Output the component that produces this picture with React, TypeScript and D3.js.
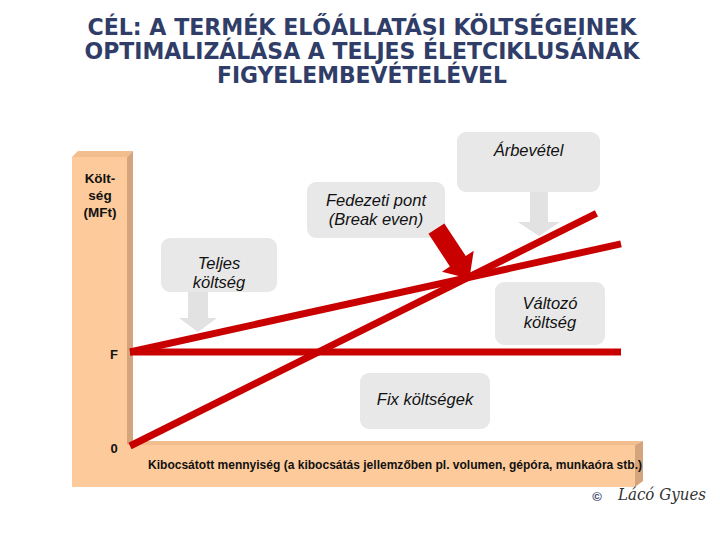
import React from "react";
import * as d3 from "d3";

const titleLines = [
  "CÉL: A TERMÉK ELŐÁLLATÁSI KÖLTSÉGEINEK",
  "OPTIMALIZÁLÁSA A TELJES ÉLETCIKLUSÁNAK",
  "FIGYELEMBEVÉTELÉVEL",
];
const yAxisLabel = ["Költ-", "ség", "(MFt)"];
const xAxisLabel = "Kibocsátott mennyiség (a kibocsátás jellemzőben pl. volumen, gépóra, munkaóra stb.)";
const yTickLabels = [
  { label: "F", value: 40 },
  { label: "0", value: 0 },
];

// quantity, cost (MFt)
const fixedCost: [number, number][] = [[0, 40], [100, 40]];
const totalCost: [number, number][] = [[0, 40], [100, 86]];
const revenue: [number, number][] = [[0, 0], [95, 99]];

const W = 720, H = 540;

export default function App() {
  const x = d3.scaleLinear().domain([0, 100]).range([130, 621]);
  const y = d3.scaleLinear().domain([0, 100]).range([446, 211]);
  const line = d3.line<[number, number]>().x(d => x(d[0])).y(d => y(d[1]));

  // break-even point from data
  const sT = (totalCost[1][1] - totalCost[0][1]) / (totalCost[1][0] - totalCost[0][0]);
  const sR = (revenue[1][1] - revenue[0][1]) / (revenue[1][0] - revenue[0][0]);
  const beQ = (totalCost[0][1] - revenue[0][1]) / (sR - sT);
  const beC = revenue[0][1] + sR * beQ;
  const tip: [number, number] = [x(beQ) + 2, y(beC) + 1];
  const dir = [0.55, 0.835];
  const perp = [dir[1], -dir[0]];
  const len = 60, headL = 21, headW = 19, shaftW = 9.5;
  const base = [tip[0] - dir[0] * headL, tip[1] - dir[1] * headL];
  const start = [tip[0] - dir[0] * len, tip[1] - dir[1] * len];
  const p = (pt: number[], k: number) => `${pt[0] + perp[0] * k},${pt[1] + perp[1] * k}`;
  const redArrow = [
    p(start, shaftW), p(base, shaftW), p(base, headW), `${tip[0]},${tip[1]}`,
    p(base, -headW), p(base, -shaftW), p(start, -shaftW),
  ].join(" ");

  const peach = "#FDCB9B";
  const tan = "#D4A47C";
  const red = "#C80000";
  const boxFill = "#E8E8E8";
  const arrowFill = "#E2E2E2";
  const labelFont = "'Liberation Sans', Arial, sans-serif";

  const downArrow = (cx: number, y0: number, y1: number, sw: number, hw: number, hl: number) =>
    `${cx - sw},${y0} ${cx + sw},${y0} ${cx + sw},${y1} ${cx + hw},${y1} ${cx},${y1 + hl} ${cx - hw},${y1} ${cx - sw},${y1}`;

  const boxes = [
    { x: 457, y: 132, w: 143, h: 60, lines: ["Árbevétel"], cy: 150 },
    { x: 307, y: 182, w: 138, h: 56, lines: ["Fedezeti pont", "(Break even)"], cy: 200 },
    { x: 161, y: 238, w: 116, h: 54, lines: ["Teljes", "költség"], cy: 263 },
    { x: 495, y: 282, w: 110, h: 63, lines: ["Változó", "költség"], cy: 303 },
    { x: 360, y: 373, w: 130, h: 56, lines: ["Fix költségek"], cy: 399 },
  ];

  return (
    <svg width={W} height={H} style={{ display: "block", position: "absolute", left: 0, top: 0, background: "#fff" }}>
      <rect x={0} y={0} width={W} height={H} fill="#fff" />
      {/* title */}
      {titleLines.map((t, i) => (
        <text key={i} x={362} y={35 + i * 24} textAnchor="middle"
          fontFamily="'DejaVu Sans Condensed', 'DejaVu Sans', sans-serif" fontWeight="bold"
          fontSize={23} fill="#2F3D68"
          textLength={i === 0 ? 549 : i === 1 ? 555 : 290} lengthAdjust="spacingAndGlyphs">{t}</text>
      ))}

      {/* axis bars */}
      <rect x={72} y={157} width={55} height={330} fill={peach} />
      <polygon points="72,157 78,151 133,151 127,157" fill="#F2BE8E" />
      <polygon points="127,157 133,151 133,441 127,445" fill={tan} />
      <rect x={72} y={445} width={563} height={42} fill={peach} />
      <polygon points="127,445 133,441 643,441 635,445" fill="#F2BE8E" />
      <polygon points="635,445 643,441 643,481 635,487" fill={tan} />

      {yAxisLabel.map((t, i) => (
        <text key={i} x={100} y={183 + i * 17} textAnchor="middle" fontFamily={labelFont}
          fontWeight="bold" fontSize={13.5} fill="#111">{t}</text>
      ))}
      {yTickLabels.map(d => (
        <text key={d.label} x={114} y={y(d.value) + 7} textAnchor="middle" fontFamily={labelFont}
          fontWeight="bold" fontSize={13} fill="#111">{d.label}</text>
      ))}
      <text x={148} y={469} fontFamily="'Liberation Sans Narrow', 'Liberation Sans', Arial, sans-serif"
        fontWeight="bold" fontSize={12} fill="#111" textLength={494} lengthAdjust="spacingAndGlyphs">{xAxisLabel}</text>

      {/* callout boxes */}
      {boxes.map((b, i) => (
        <g key={i}>
          <rect x={b.x} y={b.y} width={b.w} height={b.h} rx={9} ry={9} fill={boxFill} />
          {b.lines.map((t, j) => (
            <text key={j} x={b.x + b.w / 2} y={b.cy + 6 + j * 19} textAnchor="middle"
              fontFamily={labelFont} fontStyle="italic" fontSize={16.5} fill="#111">{t}</text>
          ))}
        </g>
      ))}
      {/* grey pointer arrows */}
      <polygon points={downArrow(539, 192, 222, 9, 21, 14)} fill={arrowFill} />
      <polygon points={downArrow(198, 292, 318, 10, 19, 14)} fill={arrowFill} />

      {/* lines */}
      {[fixedCost, totalCost, revenue].map((d, i) => (
        <path key={i} d={line(d) || ""} fill="none" stroke={red} strokeWidth={7} />
      ))}

      {/* break-even arrow */}
      <polygon points={redArrow} fill={red} />

      {/* signature */}
      <text x={597} y={501} textAnchor="middle" fontFamily={labelFont} fontWeight="bold" fontSize={13} fill="#2F3D68">©</text>
      <text x={618} y={500} fontFamily="'DejaVu Serif', serif" fontStyle="italic" fontSize={17} fill="#333"
        textLength={88} lengthAdjust="spacingAndGlyphs">Lácó Gyues</text>
    </svg>
  );
}
